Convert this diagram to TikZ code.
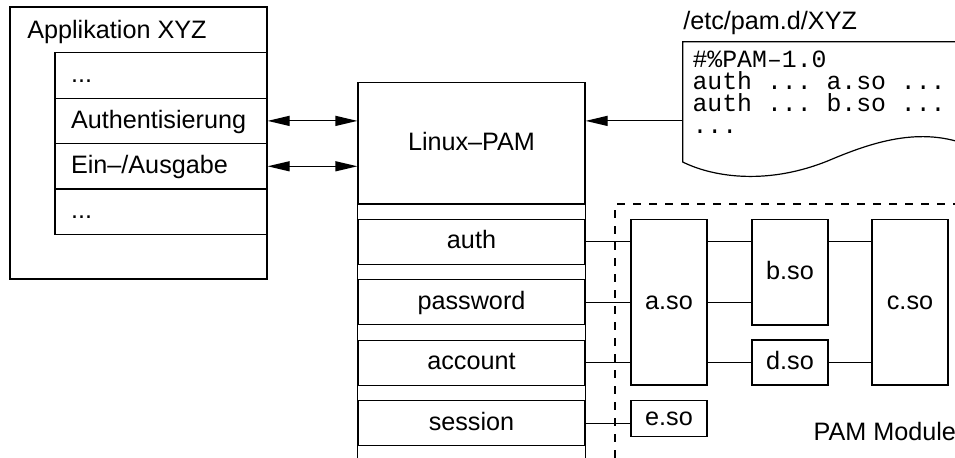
\documentclass[tikz,border=0pt]{standalone}
\usepackage{fontspec}
\setmainfont{Liberation Sans}
\setmonofont{Liberation Mono}
\usetikzlibrary{arrows.meta}

\tikzset{
  box/.style={draw, inner sep=0pt, text height=9.3pt, text depth=2.1pt,
    font=\fontsize{12.6}{15}\selectfont},
  approw/.style={box, minimum height=22.7pt, text width=90pt, inner xsep=8pt, align=left},
  pamrow/.style={box, minimum width=113.5pt, minimum height=22.5pt},
  modbox/.style={box, minimum width=38pt},
  lbl/.style={inner sep=0pt, anchor=base west, font=\fontsize{12.6}{15}\selectfont},
  pamtip/.tip={Triangle[length=11pt,width=5pt]}
}

\begin{document}
\begin{tikzpicture}[x=0.5pt, y=-0.5pt, line width=0.6pt]
  \useasboundingbox (0,0) rectangle (955,458);
  \coordinate (bot) at (0,458);

  % Applikation
  \node[box, minimum width=128.5pt, minimum height=136pt] (app) at (138.5,143) {};
  \node[lbl] (apptitle) at (26.7,38.3) {Applikation XYZ};
  \node[approw] (app1) at (161,75.5) {...};
  \node[approw] (app2) at (161,120.9) {Authentisierung};
  \node[approw] (app3) at (161,166.3) {Ein–/Ausgabe};
  \node[approw] (app4) at (161,211.7) {...};

  % Linux-PAM
  \node[box, minimum width=113.5pt, minimum height=60.65pt] (pam) at (471.5,143.4) {Linux–PAM};
  \draw (pam.south west) -- (pam.south west |- bot);
  \draw (pam.south east) -- (pam.south east |- bot);
  \node[pamrow] (auth) at (471.5,241.7) {auth};
  \node[pamrow] (passwd) at (471.5,302.2) {password};
  \node[pamrow] (account) at (471.5,362.7) {account};
  \node[pamrow] (session) at (471.5,423.2) {session};

  \draw[pamtip-pamtip] (app2.east) -- (app2.east -| pam.west);
  \draw[pamtip-pamtip] (app3.east) -- (app3.east -| pam.west);

  % /etc/pam.d/XYZ
  \node[lbl] (doctitle) at (682.7,30) {/etc/pam.d/XYZ};
  \coordinate (docnw) at (682.7,41.7);
  \draw (docnw) -- (975,41.7) -- (975,148)
    .. controls (925,125) and (875,141) .. (830,160)
    .. controls (770,185) and (715,178) .. (682.7,162) -- cycle;
  \node[inner sep=0pt, anchor=base west, align=left,
    font=\ttfamily\fontsize{12.4}{11}\selectfont] (doctext) at (692,134)
    {\#\%PAM–1.0\\auth ... a.so ...\\auth ... b.so ...\\...};
  \draw[-pamtip] (docnw |- app2) -- (app2 -| pam.east);

  % PAM Module
  \coordinate (modnw) at (615,204);
  \draw[dash pattern=on 4pt off 4pt] (modnw |- bot) -- (modnw) -- (975,204);
  \node[modbox, minimum height=82.85pt] (aso) at (669,302.2) {a.so};
  \node[modbox, minimum height=18pt] (eso) at (669,418.7) {e.so};
  \node[modbox, minimum height=52.85pt] (bso) at (790,272.2) {b.so};
  \node[modbox, minimum height=22.5pt] (dso) at (790,362.5) {d.so};
  \node[modbox, minimum height=82.85pt] (cso) at (910,302.2) {c.so};
  \node[lbl] (modlabel) at (813,441) {PAM Module};

  \draw (auth.east) -- (auth.east -| aso.west);
  \draw (passwd.east) -- (passwd.east -| aso.west);
  \draw (account.east) -- (account.east -| aso.west);
  \draw (session.east) -- (session.east -| eso.west);
  \draw (auth -| aso.east) -- (auth -| bso.west);
  \draw (passwd -| aso.east) -- (passwd -| bso.west);
  \draw (auth -| bso.east) -- (auth -| cso.west);
  \draw (dso.west -| aso.east) -- (dso.west);
  \draw (dso.east) -- (dso.east -| cso.west);
\end{tikzpicture}
\end{document}
